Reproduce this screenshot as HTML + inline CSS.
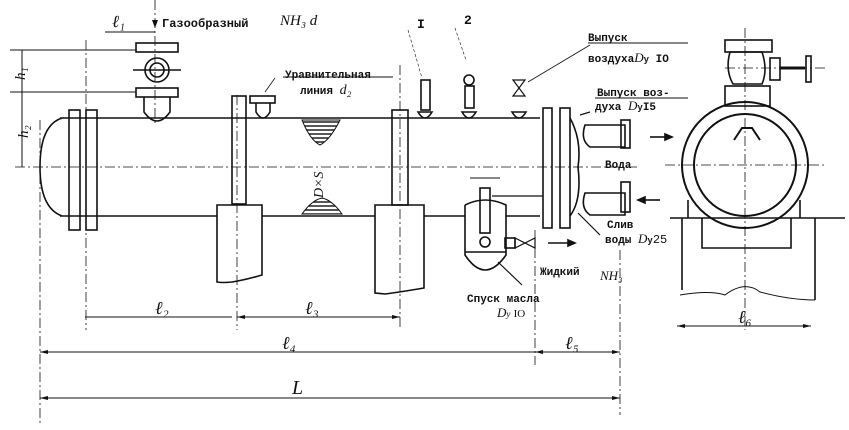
<!DOCTYPE html>
<html><head><meta charset="utf-8"><style>
html,body{margin:0;padding:0;background:#fff}
svg{display:block}
text{font-family:"Liberation Mono","DejaVu Sans Mono",monospace;fill:#111;font-weight:bold}
.it{font-family:"Liberation Serif",serif;font-style:italic;font-weight:normal}
</style></head><body>
<svg width="849" height="430" viewBox="0 0 849 430" xmlns="http://www.w3.org/2000/svg" stroke="#111" fill="none" stroke-width="1.6">
<defs><pattern id="h" width="4" height="4" patternUnits="userSpaceOnUse"><line x1="0" y1="2" x2="4" y2="2" stroke="#111" stroke-width="1.4"/></pattern></defs>
<g stroke-width="0.8" stroke-dasharray="10,3,2,3">
<line x1="15" y1="167" x2="640" y2="167"/>
<line x1="40" y1="120" x2="40" y2="425"/>
<line x1="86" y1="40" x2="86" y2="330"/>
<line x1="155" y1="0" x2="155" y2="125"/>
<line x1="237" y1="95" x2="237" y2="330"/>
<line x1="400" y1="65" x2="400" y2="330"/>
<line x1="535" y1="230" x2="535" y2="365"/>
<line x1="620" y1="250" x2="620" y2="415"/>
<line x1="745" y1="28" x2="745" y2="330"/>
<line x1="665" y1="165" x2="825" y2="165"/>
<line x1="725" y1="68" x2="825" y2="68"/>
</g>
<line x1="60" y1="118" x2="540" y2="118"/>
<line x1="60" y1="216" x2="217" y2="216"/>
<line x1="262" y1="216" x2="375" y2="216"/>
<line x1="424" y1="216" x2="465" y2="216"/>
<line x1="506" y1="216" x2="540" y2="216"/>
<path d="M62,118 Q40,125 40,167 Q40,208 62,216"/>
<rect x="69" y="110" width="11" height="120"/>
<rect x="86" y="110" width="11" height="120"/>
<rect x="543" y="108" width="9" height="120"/>
<rect x="560" y="108" width="10" height="120"/>
<path d="M570,118 Q582,140 578,167 Q582,200 570,216"/>
<rect x="232" y="96" width="14" height="108"/>
<path d="M217,205 H262 V275 Q245,280 232,282 Q222,283 217,282 Z"/>
<rect x="392" y="110" width="16" height="95"/>
<path d="M375,205 H424 V288 Q400,292 385,294 L375,293 Z"/>
<path d="M302,120 Q310,140 320,145 Q330,140 340,120 Z" fill="url(#h)" stroke-width="1"/>
<path d="M302,214 Q312,200 322,198 Q332,200 342,214 Z" fill="url(#h)" stroke-width="1"/>
<text x="300" y="185" class="it" font-size="14" transform="rotate(-90 318 180)" stroke="none">D×S</text>
<rect x="136" y="43" width="42" height="9"/>
<rect x="136" y="88" width="42" height="9"/>
<circle cx="157" cy="70" r="12"/>
<circle cx="157" cy="70" r="7"/>
<line x1="133" y1="70" x2="181" y2="70"/>
<path d="M144,97 V112 Q157,130 170,112 V97"/>
<rect x="250" y="96" width="25" height="7"/>
<path d="M256,103 V112 Q263,124 270,112 V103"/>
<line x1="265" y1="92" x2="275" y2="78" stroke-width="0.8"/>
<line x1="283" y1="77" x2="393" y2="77" stroke-width="1"/>
<rect x="421" y="80" width="9" height="30"/><path d="M418,112 Q425,124 432,112Z"/>
<line x1="408" y1="30" x2="422" y2="78" stroke-width="0.6" stroke-dasharray="3,2"/>
<circle cx="469" cy="80" r="5"/><rect x="465" y="86" width="9" height="22"/><path d="M462,112 Q469,124 476,112Z"/>
<line x1="455" y1="28" x2="466" y2="60" stroke-width="0.6" stroke-dasharray="3,2"/>
<path d="M513,80 L525,96 L513,96 L525,80 Z" stroke-width="1.2"/><path d="M512,112 Q519,124 526,112Z"/>
<line x1="528" y1="82" x2="590" y2="45" stroke-width="0.8"/>
<line x1="588" y1="43" x2="688" y2="43" stroke-width="1"/>
<line x1="595" y1="98" x2="688" y2="98" stroke-width="1"/>
<path d="M585,125 Q580,140 590,147 H625 V125 Z"/><rect x="621" y="120" width="9" height="28"/>
<path d="M585,193 Q580,208 590,215 H625 V193 Z"/><rect x="621" y="182" width="9" height="30"/>
<line x1="650" y1="137" x2="665" y2="137"/><path d="M665,134 L672,137 L665,140Z" fill="#111"/>
<line x1="645" y1="200" x2="660" y2="200"/><path d="M645,197 L638,200 L645,203Z" fill="#111"/>
<line x1="580" y1="115" x2="590" y2="112" stroke-width="1.2"/>
<line x1="578" y1="213" x2="600" y2="235" stroke-width="1.2"/>
<path d="M465,205 V255 Q485,285 506,255 V205 Q485,195 465,205"/>
<line x1="465" y1="252" x2="506" y2="252"/>
<rect x="480" y="188" width="10" height="45"/>
<line x1="470" y1="178" x2="500" y2="178" stroke-width="1"/>
<circle cx="485" cy="242" r="5"/>
<line x1="492" y1="196" x2="543" y2="196" stroke-width="1.2"/>
<rect x="505" y="238" width="10" height="10"/>
<path d="M515,238 L535,248 L535,238 L515,248Z" stroke-width="1.2"/>
<line x1="548" y1="243" x2="568" y2="243"/><path d="M568,240 L575,243 L568,246Z" fill="#111"/>
<line x1="498" y1="262" x2="522" y2="285" stroke-width="1.2"/>
<circle cx="745" cy="165" r="63" stroke-width="2"/>
<circle cx="745" cy="165" r="51" stroke-width="2"/>
<path d="M734,140 L742,128 L752,128 L760,140" stroke-width="2"/>
<rect x="725" y="40" width="47" height="12"/>
<path d="M730,52 Q725,70 733,84 H762 Q768,70 762,52 Z"/>
<rect x="725" y="86" width="45" height="20"/>
<rect x="770" y="58" width="10" height="22"/>
<line x1="780" y1="68" x2="805" y2="68" stroke-width="3"/>
<rect x="806" y="56" width="5" height="26"/>
<line x1="670" y1="218" x2="845" y2="218"/>
<path d="M702,218 V248 H791 V218"/>
<path d="M682,218 V290 M815,218 V300"/>
<path d="M688,200 V218 M800,200 V218"/>
<path d="M680,295 Q710,290 725,295 Q745,280 760,292 Q790,300 815,300" stroke-width="1"/>
<g stroke-width="1">
<line x1="85" y1="317" x2="232" y2="317"/>
<line x1="237" y1="317" x2="400" y2="317"/>
<line x1="40" y1="352" x2="620" y2="352"/>
<line x1="40" y1="398" x2="620" y2="398"/>
<line x1="677" y1="326" x2="811" y2="326"/>
<line x1="105" y1="32" x2="155" y2="32"/>
<line x1="10" y1="50" x2="136" y2="50"/>
<line x1="10" y1="92" x2="136" y2="92"/>
<line x1="22" y1="50" x2="22" y2="167"/>
</g>
<g fill="#111" stroke="none">
<path d="M40,352 l8,-2 v4z"/><path d="M620,352 l-8,-2 v4z"/><path d="M535,352 l8,-2 v4z"/>
<path d="M40,398 l8,-2 v4z"/><path d="M620,398 l-8,-2 v4z"/>
<path d="M400,317 l-8,-2 v4z"/><path d="M237,317 l8,-2 v4z"/>
<path d="M677,326 l8,-2 v4z"/><path d="M811,326 l-8,-2 v4z"/>
<path d="M152,20 h6 l-3,8z"/>
</g>
<g stroke="none">
<text x="112" y="27" class="it" font-size="17">ℓ₁</text>
<text x="162" y="27" font-size="12">Газообразный</text>
<text x="280" y="25" class="it" font-size="15">NH₃ d</text>
<text x="15" y="80" class="it" font-size="15" transform="rotate(-90 20 75)">h₁</text>
<text x="10" y="140" class="it" font-size="15" transform="rotate(-90 18 130)">h₂</text>
<text x="285" y="78" font-size="11">Уравнительная</text>
<text x="300" y="94" font-size="11">линия <tspan class="it" font-size="14">d₂</tspan></text>
<text x="417" y="28" font-size="13">I</text>
<text x="464" y="24" font-size="13" font-weight="normal">2</text>
<text x="588" y="41" font-size="11">Выпуск</text>
<text x="588" y="62" font-size="11">воздуха<tspan class="it" font-size="13">D</tspan><tspan font-size="9">y</tspan> IO</text>
<text x="597" y="96" font-size="11">Выпуск воз-</text>
<text x="595" y="110" font-size="11">духа <tspan class="it" font-size="13">D</tspan><tspan font-size="9">y</tspan>I5</text>
<text x="605" y="168" font-size="11">Вода</text>
<text x="607" y="228" font-size="11">Слив</text>
<text x="605" y="243" font-size="11">воды <tspan class="it" font-size="13">D</tspan><tspan font-size="9">y</tspan><tspan font-weight="normal" font-size="12">25</tspan></text>
<text x="540" y="275" font-size="11">Жидкий</text>
<text x="600" y="280" class="it" font-size="13">NH₃</text>
<text x="467" y="302" font-size="11">Спуск масла</text>
<text x="497" y="317" class="it" font-size="13">D<tspan font-size="9">y</tspan> <tspan font-size="11" style="font-style:normal">IO</tspan></text>
<text x="155" y="314" class="it" font-size="18">ℓ₂</text>
<text x="305" y="314" class="it" font-size="18">ℓ₃</text>
<text x="282" y="349" class="it" font-size="18">ℓ₄</text>
<text x="565" y="349" class="it" font-size="18">ℓ₅</text>
<text x="292" y="394" class="it" font-size="20">L</text>
<text x="738" y="323" class="it" font-size="18">ℓ₆</text>
</g>
</svg>
</body></html>
